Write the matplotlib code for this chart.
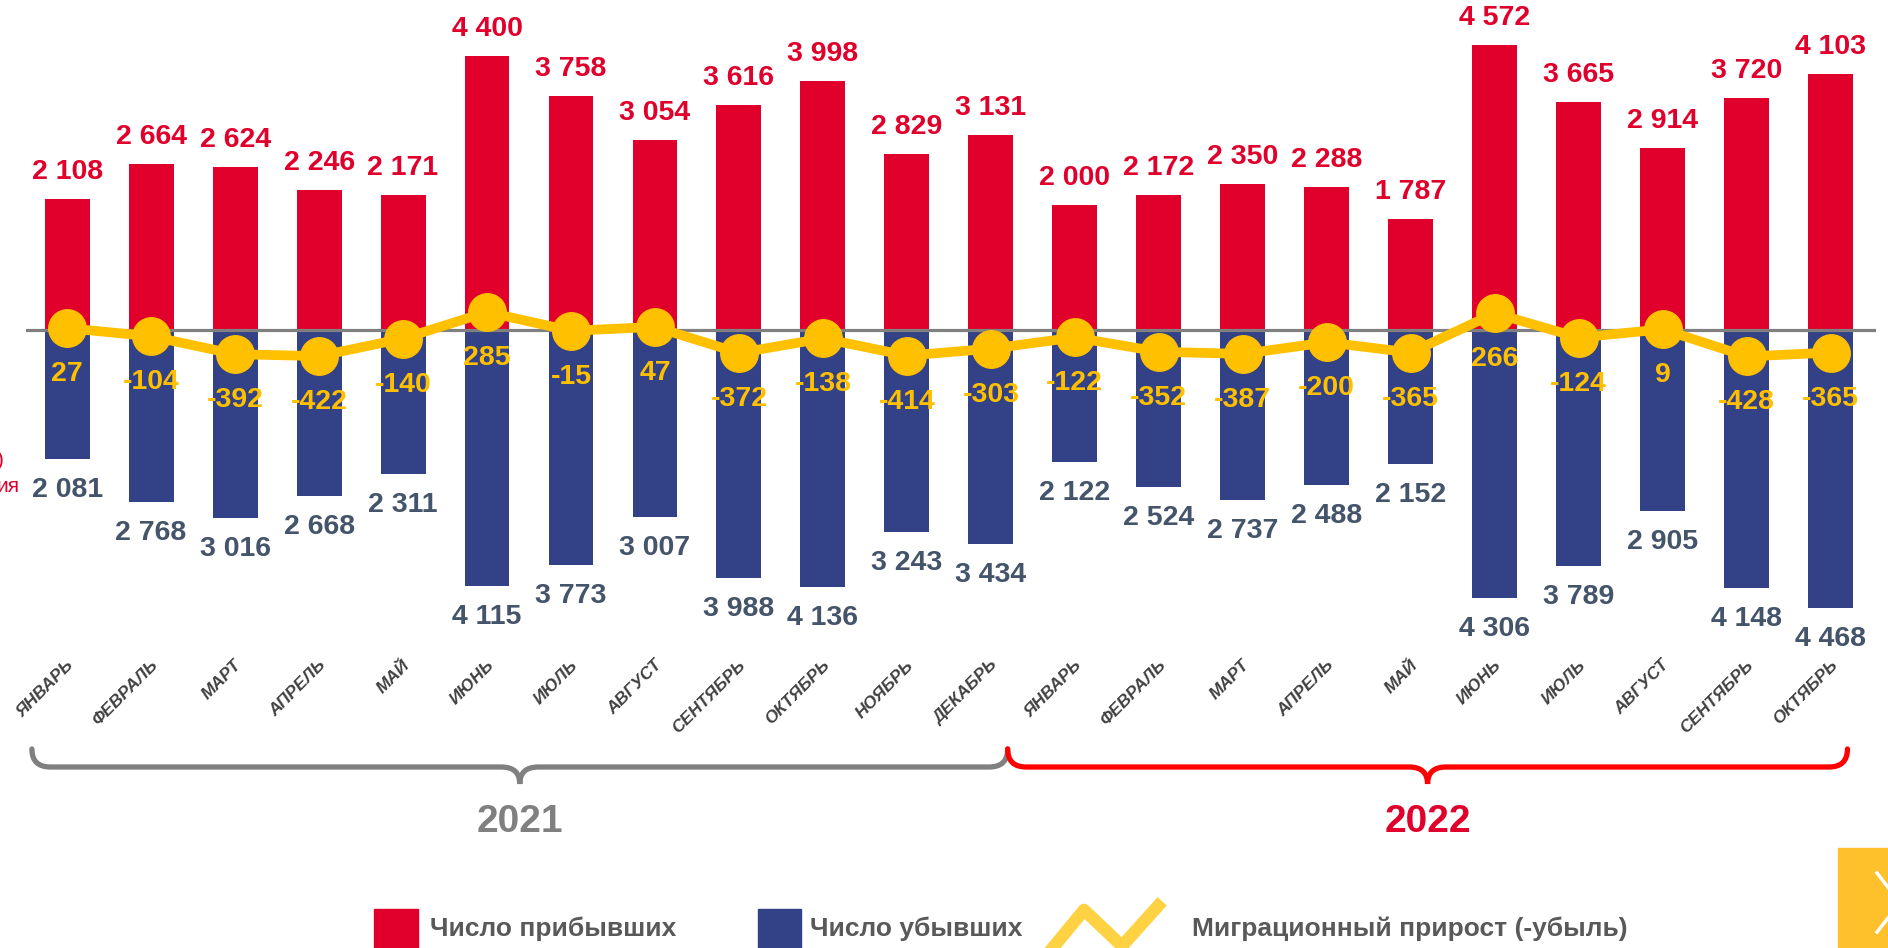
import matplotlib
matplotlib.use('Agg')
import matplotlib.pyplot as plt
from matplotlib.path import Path
from matplotlib.patches import PathPatch, Rectangle
from matplotlib.lines import Line2D
from matplotlib.transforms import blended_transform_factory

plt.rcParams['font.family'] = ['Liberation Sans', 'DejaVu Sans']

months = ['ЯНВАРЬ', 'ФЕВРАЛЬ', 'МАРТ', 'АПРЕЛЬ', 'МАЙ', 'ИЮНЬ', 'ИЮЛЬ', 'АВГУСТ',
          'СЕНТЯБРЬ', 'ОКТЯБРЬ', 'НОЯБРЬ', 'ДЕКАБРЬ',
          'ЯНВАРЬ', 'ФЕВРАЛЬ', 'МАРТ', 'АПРЕЛЬ', 'МАЙ', 'ИЮНЬ', 'ИЮЛЬ', 'АВГУСТ',
          'СЕНТЯБРЬ', 'ОКТЯБРЬ']
arrived = [2108, 2664, 2624, 2246, 2171, 4400, 3758, 3054, 3616, 3998, 2829, 3131,
           2000, 2172, 2350, 2288, 1787, 4572, 3665, 2914, 3720, 4103]
departed = [2081, 2768, 3016, 2668, 2311, 4115, 3773, 3007, 3988, 4136, 3243, 3434,
            2122, 2524, 2737, 2488, 2152, 4306, 3789, 2905, 4148, 4468]
net = [27, -104, -392, -422, -140, 285, -15, 47, -372, -138, -414, -303,
       -122, -352, -387, -200, -365, 266, -124, 9, -428, -365]
years = ['2021', '2022']

RED = '#E0002B'
BLUE = '#334186'
YEL = '#FFC000'
GREY = '#808080'
W, H = 1888, 948


def fx(px):
    return px / W


def fy(py):
    return 1 - py / H


def fmt(v):
    return f'{v:,}'.replace(',', ' ')


fig = plt.figure(figsize=(18.88, 9.48), dpi=100)
ax = fig.add_axes([fx(26), fy(641), fx(1876) - fx(26), fy(0) - fy(641)])
ax.set_xlim(-0.49, 21.54)
ax.set_ylim(-5000, 5300)
ax.axis('off')

x = list(range(len(months)))
ax.bar(x, arrived, width=0.535, color=RED, zorder=2)
ax.bar(x, [-d for d in departed], width=0.535, color=BLUE, zorder=2)
ax.axhline(0, color=GREY, lw=2.3, zorder=3)
ax.plot(x, net, color=YEL, lw=7, marker='o', ms=27, zorder=4)

for i in x:
    ax.annotate(fmt(arrived[i]), (i, arrived[i]), xytext=(0, 27), textcoords='offset pixels',
                ha='center', va='center', color=RED, fontsize=20.5, fontweight='bold')
    ax.annotate(fmt(departed[i]), (i, -departed[i]), xytext=(0, -31), textcoords='offset pixels',
                ha='center', va='center', color='#44546A', fontsize=20.5, fontweight='bold')
    ax.annotate(str(net[i]), (i, net[i]), xytext=(0, -46), textcoords='offset pixels',
                ha='center', va='center', color=YEL, fontsize=20.5, fontweight='bold', zorder=5)

xt = ax.get_xaxis_transform()
for i, m in enumerate(months):
    ax.text(i + 0.05, -0.034, m, transform=xt, rotation=45, rotation_mode='anchor',
            ha='right', va='center', fontsize=12.5, style='italic', fontweight='bold',
            color='#404040', clip_on=False)

# year braces
bt = blended_transform_factory(ax.transData, fig.transFigure)


def brace(x0, x1, color):
    yt, yh, yb = fy(749), fy(767), fy(784)
    r = 0.22
    xm = (x0 + x1) / 2
    verts = [(x0, yt), (x0, yh), (x0 + r, yh),
             (xm - r, yh), (xm, yh), (xm, yb),
             (xm, yh), (xm + r, yh),
             (x1 - r, yh), (x1, yh), (x1, yt)]
    codes = [Path.MOVETO, Path.CURVE3, Path.CURVE3,
             Path.LINETO, Path.CURVE3, Path.CURVE3,
             Path.CURVE3, Path.CURVE3,
             Path.LINETO, Path.CURVE3, Path.CURVE3]
    fig.add_artist(PathPatch(Path(verts, codes), transform=bt, fill=False,
                             edgecolor=color, lw=3.8, capstyle='round'))
    return xm


m1 = brace(-0.42, 11.2, GREY)
m2 = brace(11.2, 21.2, '#FF0000')
fig.text(m1, fy(822), years[0], transform=bt, ha='center', va='center',
         fontsize=28, fontweight='bold', color=GREY)
fig.text(m2, fy(822), years[1], transform=bt, ha='center', va='center',
         fontsize=28, fontweight='bold', color=RED)

# legend
fig.add_artist(Rectangle((fx(374), fy(960)), fx(418) - fx(374), fy(909) - fy(960),
                         transform=fig.transFigure, color=RED))
fig.text(fx(430), fy(929), 'Число прибывших', ha='left', va='center',
         fontsize=19, fontweight='bold', color='#595959')
fig.add_artist(Rectangle((fx(758), fy(960)), fx(801) - fx(758), fy(909) - fy(960),
                         transform=fig.transFigure, color=BLUE))
fig.text(fx(810), fy(929), 'Число убывших', ha='left', va='center',
         fontsize=19, fontweight='bold', color='#595959')
fig.add_artist(Line2D([fx(1051), fx(1084), fx(1122), fx(1158)],
                      [fy(950), fy(910), fy(946), fy(906)],
                      transform=fig.transFigure, color='#FFD243', lw=9))
fig.text(fx(1192), fy(929), 'Миграционный прирост (-убыль)', ha='left', va='center',
         fontsize=19, fontweight='bold', color='#595959')

# bits cut off at the edges of the slide
fig.text(fx(20), fy(487), 'ия', ha='right', va='center', fontsize=15, color=RED)
fig.text(fx(4), fy(461), ')', ha='right', va='center', fontsize=15, color=RED)
fig.add_artist(Rectangle((fx(1838), fy(960)), fx(1900) - fx(1838), fy(848) - fy(960),
                         transform=fig.transFigure, color='#FFC12B'))
fig.add_artist(Line2D([fx(1877), fx(1900), fx(1877)], [fy(873), fy(903), fy(932)],
                      transform=fig.transFigure, color='white', lw=2.5))

fig.savefig('out.png', dpi=100)
